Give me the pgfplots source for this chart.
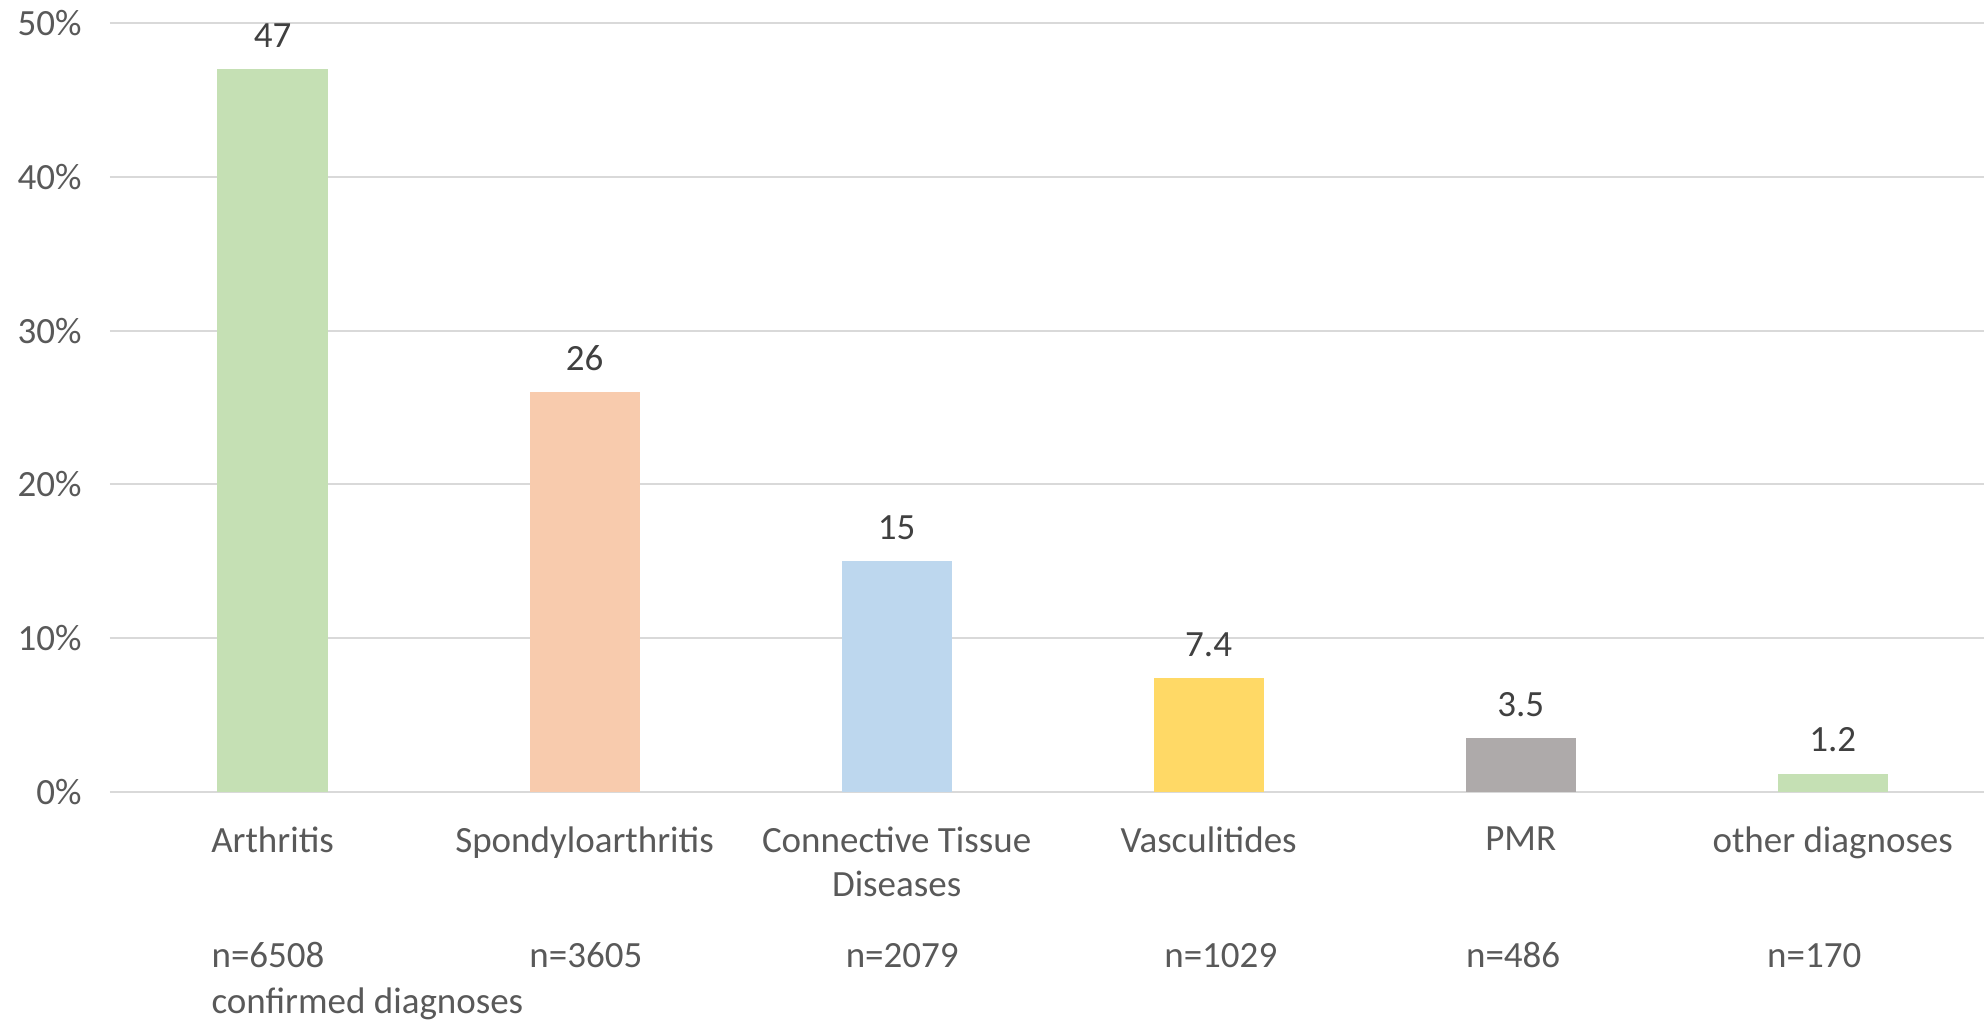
\documentclass[border=0pt]{standalone}
\usepackage{pgfplots}
\pgfplotsset{compat=1.18}
\usepackage{fontspec}
\setmainfont{Carlito}
\definecolor{cgreen}{HTML}{C5E0B4}
\definecolor{cpeach}{HTML}{F8CBAD}
\definecolor{cblue}{HTML}{BDD7EE}
\definecolor{cyellow}{HTML}{FFD966}
\definecolor{cgray}{HTML}{AEAAAA}
\definecolor{gridc}{HTML}{D9D9D9}
\definecolor{tickc}{HTML}{595959}
\definecolor{labc}{HTML}{404040}
\newcommand{\cf}{\fontsize{14.8}{17.6}\selectfont}
\begin{document}
\begin{tikzpicture}
\begin{axis}[
  scale only axis,
  width=749.6pt, height=307.6pt,
  /pgf/number format/assume math mode=true,
  xmin=-0.521, xmax=5.485,
  ymin=0, ymax=50,
  ytick={0,10,20,30,40,50},
  yticklabel={\pgfmathprintnumber{\tick}\%},
  xtick={0,1,2,3,4,5},
  xticklabels={Arthritis,Spondyloarthritis,Connective Tissue\\Diseases,Vasculitides,PMR,other diagnoses},
  xticklabel style={font=\cf, text=tickc, align=center, inner sep=0pt, anchor=north, yshift=-9.4pt},
  yticklabel style={font=\cf, text=tickc, inner sep=0pt, anchor=east, xshift=-11.2pt},
  ymajorgrids,
  grid style={draw=gridc, line width=0.8pt},
  axis line style={draw=none},
  tick style={draw=none},
  ybar, bar width=0.353, bar shift=0pt,
  nodes near coords,
  every node near coord/.append style={font=\cf, text=labc, inner sep=0pt, anchor=south, yshift=8.4pt},
  clip=false,
]
\addplot[fill=cgreen, draw=none] coordinates {(0,47)};
\addplot[fill=cpeach, draw=none] coordinates {(1,26)};
\addplot[fill=cblue, draw=none] coordinates {(2,15)};
\addplot[fill=cyellow, draw=none] coordinates {(3,7.4)};
\addplot[fill=cgray, draw=none] coordinates {(4,3.5)};
\addplot[fill=cgreen, draw=none] coordinates {(5,1.2)};
\node[font=\cf, text=tickc, anchor=base west, inner sep=0pt] at (axis cs:-0.197,-11.38) {n=6508};
\node[font=\cf, text=tickc, anchor=base west, inner sep=0pt] at (axis cs:-0.197,-14.4) {confirmed diagnoses};
\node[font=\cf, text=tickc, anchor=base, inner sep=0pt] at (axis cs:1.004,-11.38) {n=3605};
\node[font=\cf, text=tickc, anchor=base, inner sep=0pt] at (axis cs:2.018,-11.38) {n=2079};
\node[font=\cf, text=tickc, anchor=base, inner sep=0pt] at (axis cs:3.039,-11.38) {n=1029};
\node[font=\cf, text=tickc, anchor=base, inner sep=0pt] at (axis cs:3.976,-11.38) {n=486};
\node[font=\cf, text=tickc, anchor=base, inner sep=0pt] at (axis cs:4.941,-11.38) {n=170};
\coordinate (O) at (rel axis cs:0,0);
\end{axis}
\pgfresetboundingbox
\path (O) ++(-44pt,-92pt) rectangle ++(794pt,408.8pt);
\end{tikzpicture}
\end{document}
